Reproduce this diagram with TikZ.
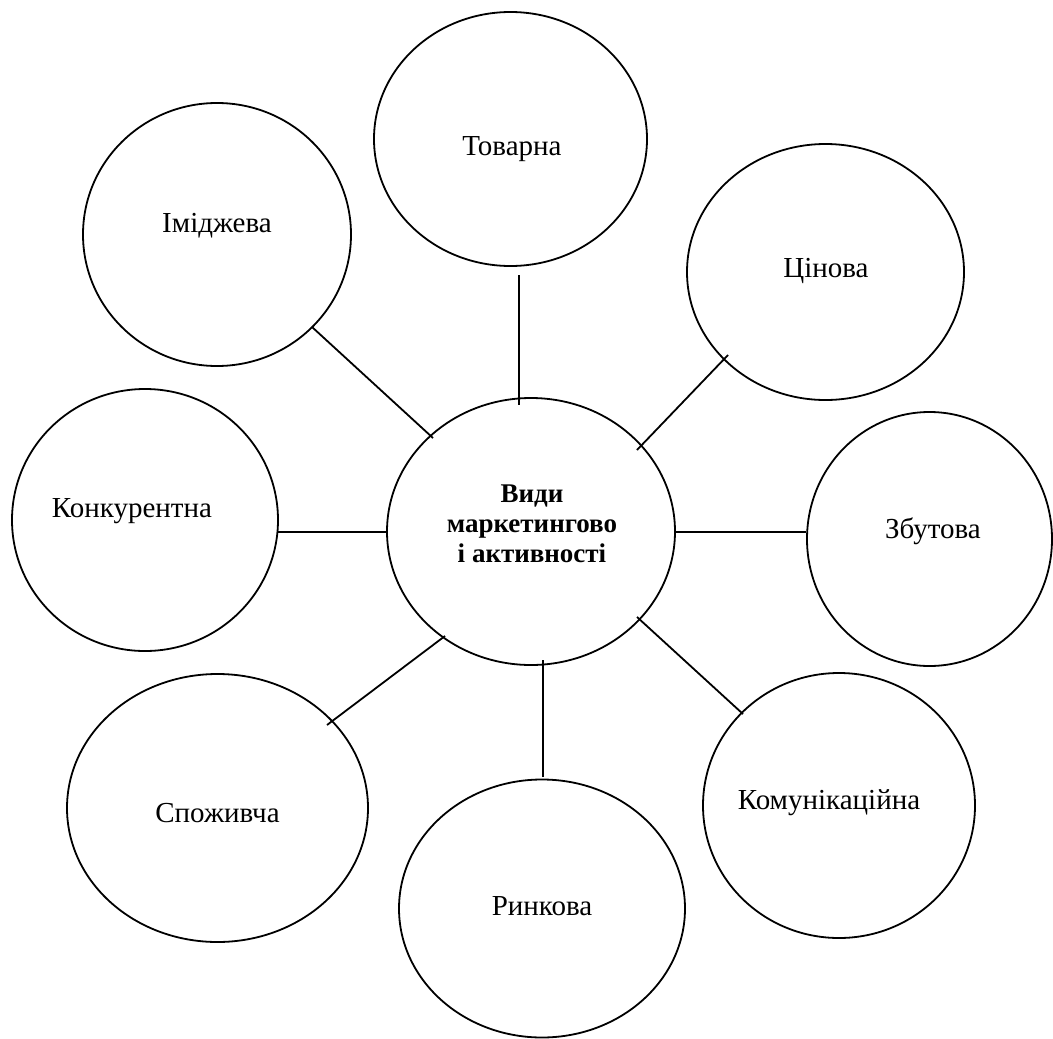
\documentclass[tikz,border=0pt]{standalone}
\usepackage{fontspec}
\setmainfont{Liberation Serif}
\usetikzlibrary{shapes.geometric}
\tikzset{
  bubble/.style={draw, ellipse, inner sep=0pt, line width=1.8pt},
  lbl/.style={anchor=base, inner sep=0pt, font=\fontsize{29}{34}\selectfont},
  mainlbl/.style={anchor=base, inner sep=0pt, font=\fontsize{27}{30}\selectfont\bfseries},
  link/.style={line width=1.8pt}
}
\begin{document}
\begin{tikzpicture}[x=1pt,y=-1pt]
\useasboundingbox (0,0) rectangle (1053,1039);
% ellipses
\node[bubble, minimum width=288pt, minimum height=267pt] (ctr) at (531,531.5) {};
\node[bubble, minimum width=273pt, minimum height=254pt] (tov) at (510.5,139) {};
\node[bubble, minimum width=268pt, minimum height=263pt] (img) at (217,234.5) {};
\node[bubble, minimum width=277pt, minimum height=256pt] (cin) at (825.5,272) {};
\node[bubble, minimum width=266pt, minimum height=262pt] (kon) at (145,520) {};
\node[bubble, minimum width=245pt, minimum height=254pt] (zbu) at (929.5,539) {};
\node[bubble, minimum width=301pt, minimum height=268pt] (spo) at (217.5,808) {};
\node[bubble, minimum width=286pt, minimum height=258pt] (rin) at (542,908.5) {};
\node[bubble, minimum width=272pt, minimum height=265pt] (kom) at (839,805.5) {};
% labels
\node[mainlbl] (ctrT) at (532,502) {\begin{tabular}[t]{@{}c@{}}Види\\маркетингово\\і активності\end{tabular}};
\node[lbl] (tovT) at (512,155) {Товарна};
\node[lbl] (imgT) at (217,232) {Іміджева};
\node[lbl] (cinT) at (826,277) {Цінова};
\node[lbl] (konT) at (132,517) {Конкурентна};
\node[lbl] (zbuT) at (933,538) {Збутова};
\node[lbl] (spoT) at (217.5,822) {Споживча};
\node[lbl] (rinT) at (542,915) {Ринкова};
\node[lbl] (komT) at (829,809) {Комунікаційна};
% connector ends
\coordinate (tovA) at (519,275);  \coordinate (tovB) at (519,405);
\coordinate (imgA) at (312,327);  \coordinate (imgB) at (433,438);
\coordinate (cinA) at (728,355);  \coordinate (cinB) at (637,450);
\coordinate (konA) at (278,532);  \coordinate (konB) at (387,532);
\coordinate (zbuA) at (806,532);  \coordinate (zbuB) at (675,532);
\coordinate (spoA) at (327,725);  \coordinate (spoB) at (445,636);
\coordinate (rinA) at (543,777);  \coordinate (rinB) at (543,660);
\coordinate (komA) at (743,714);  \coordinate (komB) at (637,617);
% connectors
\draw[link] (tovA) -- (tovB);
\draw[link] (imgA) -- (imgB);
\draw[link] (cinA) -- (cinB);
\draw[link] (konA) -- (konB);
\draw[link] (zbuA) -- (zbuB);
\draw[link] (spoA) -- (spoB);
\draw[link] (rinA) -- (rinB);
\draw[link] (komA) -- (komB);
\end{tikzpicture}
\end{document}
